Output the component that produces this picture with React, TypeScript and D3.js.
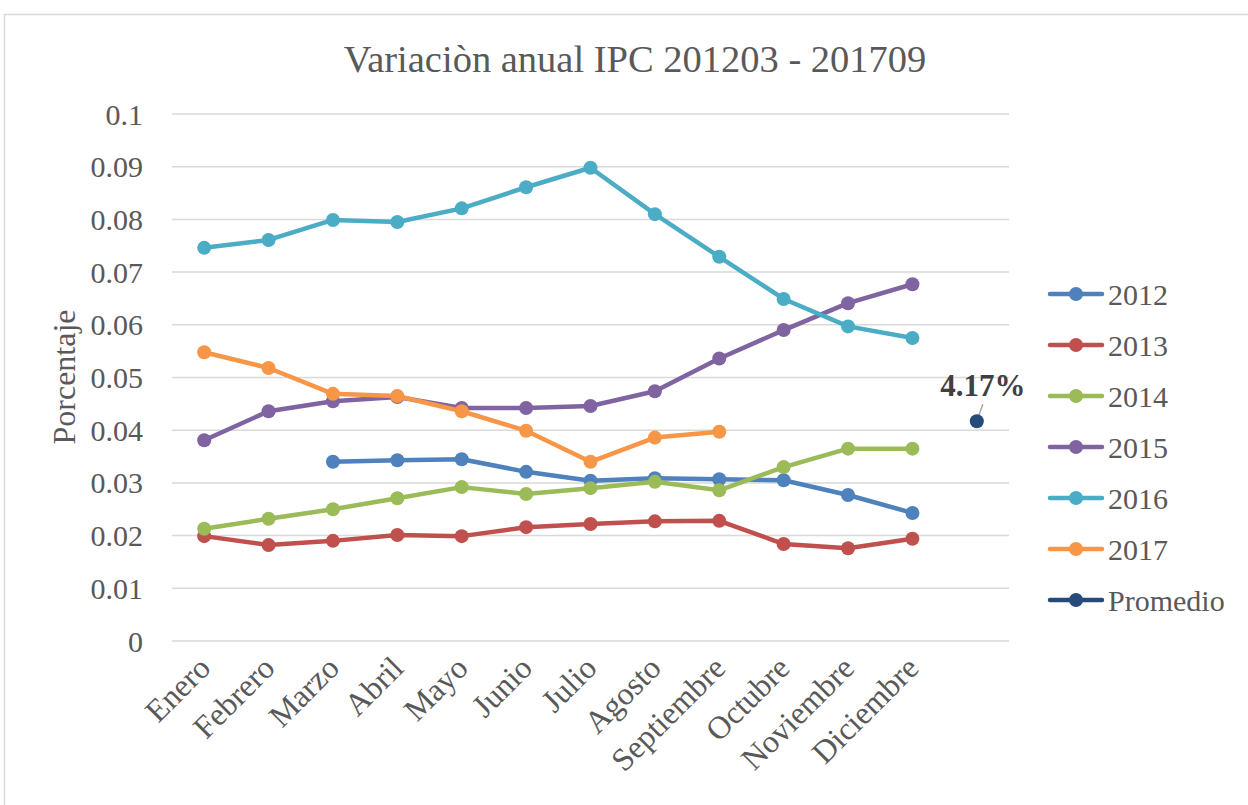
import React from 'react'
import * as d3 from 'd3'

const months = ['Enero', 'Febrero', 'Marzo', 'Abril', 'Mayo', 'Junio', 'Julio', 'Agosto', 'Septiembre', 'Octubre', 'Noviembre', 'Diciembre']
const yTicks = [0, 0.01, 0.02, 0.03, 0.04, 0.05, 0.06, 0.07, 0.08, 0.09, 0.1]

const v2012 = [null, null, 0.034, 0.0343, 0.0345, 0.0321, 0.0304, 0.0309, 0.0307, 0.0305, 0.0277, 0.0243]
const v2013 = [0.0199, 0.0182, 0.019, 0.0201, 0.0199, 0.0216, 0.0222, 0.0227, 0.0228, 0.0184, 0.0176, 0.0194]
const v2014 = [0.0213, 0.0232, 0.025, 0.0271, 0.0292, 0.0279, 0.029, 0.0302, 0.0286, 0.033, 0.0365, 0.0365]
const v2015 = [0.0381, 0.0436, 0.0455, 0.0463, 0.0442, 0.0442, 0.0446, 0.0474, 0.0536, 0.059, 0.0641, 0.0677]
const v2016 = [0.0746, 0.0761, 0.0799, 0.0795, 0.0821, 0.0861, 0.0898, 0.081, 0.0729, 0.0649, 0.0597, 0.0575]
const v2017 = [0.0548, 0.0518, 0.0469, 0.0465, 0.0436, 0.0399, 0.034, 0.0386, 0.0397, null, null, null]
const promedio = 0.0417

const seriesNames = ['2012', '2013', '2014', '2015', '2016', '2017', 'Promedio']
const seriesColors = ['#4F81BD', '#C0504D', '#9BBB59', '#8064A2', '#4BACC6', '#F79646', '#264B7A']

const W = 1248
const H = 805
const font = '"Liberation Serif", "Times New Roman", serif'
const textColor = '#595959'

const App = () => {
    const ref = React.useRef<SVGSVGElement>(null)

    React.useEffect(() => {
        document.body.style.margin = '0'
        const svg = d3.select(ref.current)
        svg.selectAll('*').remove()

        // chart frame
        svg.append('rect')
            .attr('x', 4.5).attr('y', 14.5)
            .attr('width', W + 10).attr('height', H + 10)
            .attr('fill', 'white').attr('stroke', '#d9d9d9').attr('stroke-width', 1.5)

        const left = 172
        const right = 1009
        const top = 114
        const bottom = 641

        const cats = [...months, '']
        const x = d3.scaleBand().domain(cats).range([left, right])
        const y = d3.scaleLinear().domain([0, 0.1]).range([bottom, top])
        const cx = (c: string) => (x(c) as number) + x.bandwidth() / 2

        // title
        svg.append('text')
            .attr('x', 635).attr('y', 72)
            .attr('text-anchor', 'middle')
            .style('font-family', font).style('font-size', '38.5px').style('fill', textColor)
            .text('Variaciòn anual IPC 201203 - 201709')

        // grid + y labels
        svg.selectAll('.grid').data(yTicks).enter().append('line')
            .attr('x1', left).attr('x2', right)
            .attr('y1', (d) => y(d)).attr('y2', (d) => y(d))
            .attr('stroke', '#d9d9d9').attr('stroke-width', 1.5)

        svg.selectAll('.ylab').data(yTicks).enter().append('text')
            .attr('x', 143).attr('y', (d) => y(d))
            .attr('dy', '0.35em')
            .attr('text-anchor', 'end')
            .style('font-family', font).style('font-size', '30px').style('fill', textColor)
            .text((d) => String(+d.toFixed(2)))

        svg.append('text')
            .attr('transform', `translate(75, 377) rotate(-90)`)
            .attr('text-anchor', 'middle')
            .style('font-family', font).style('font-size', '32px').style('fill', textColor)
            .text('Porcentaje')

        // x labels
        svg.selectAll('.xlab').data(months).enter().append('text')
            .attr('transform', (d) => `translate(${cx(d) + 8}, 670) rotate(-45)`)
            .attr('text-anchor', 'end')
            .style('font-family', font).style('font-size', '32px').style('fill', textColor)
            .text((d) => d)

        const allSeries = [v2012, v2013, v2014, v2015, v2016, v2017]
        const line = d3.line<number | null>()
            .defined((d) => d !== null)
            .x((_, i) => cx(months[i]))
            .y((d) => y(d as number))

        allSeries.forEach((vals, si) => {
            const col = seriesColors[si]
            svg.append('path')
                .attr('d', line(vals))
                .attr('fill', 'none').attr('stroke', col).attr('stroke-width', 4.5)
                .attr('stroke-linejoin', 'round').attr('stroke-linecap', 'round')
            svg.selectAll(null).data(vals.map((v, i) => ({ v, i })).filter((d) => d.v !== null)).enter().append('circle')
                .attr('cx', (d) => cx(months[d.i])).attr('cy', (d) => y(d.v as number))
                .attr('r', 7).attr('fill', col)
        })

        // promedio point + label
        const px = cx('')
        const py = y(promedio)
        svg.append('line')
            .attr('x1', px + 6).attr('y1', py - 17).attr('x2', px + 1).attr('y2', py - 3)
            .attr('stroke', '#a6a6a6').attr('stroke-width', 1.5)
        svg.append('circle').attr('cx', px).attr('cy', py).attr('r', 7).attr('fill', seriesColors[6])
        svg.append('text')
            .attr('x', px + 6).attr('y', py - 25)
            .attr('text-anchor', 'middle')
            .style('font-family', font).style('font-size', '31px').style('font-weight', 'bold').style('fill', '#404040')
            .text((promedio * 100).toFixed(2) + '%')

        // legend
        const lg = svg.append('g')
        seriesNames.forEach((name, i) => {
            const ly = 294 + i * 51
            lg.append('line')
                .attr('x1', 1050).attr('x2', 1102).attr('y1', ly).attr('y2', ly)
                .attr('stroke', seriesColors[i]).attr('stroke-width', 4.5).attr('stroke-linecap', 'round')
            lg.append('circle').attr('cx', 1076).attr('cy', ly).attr('r', 7).attr('fill', seriesColors[i])
            lg.append('text')
                .attr('x', 1108).attr('y', ly).attr('dy', '0.35em')
                .style('font-family', font).style('font-size', '30px').style('fill', textColor)
                .text(name)
        })
    }, [])

    return (
        <div style={{ width: W, height: H, overflow: 'hidden', background: 'white' }}>
            <svg ref={ref} width={W} height={H}></svg>
        </div>
    )
}

export default App
